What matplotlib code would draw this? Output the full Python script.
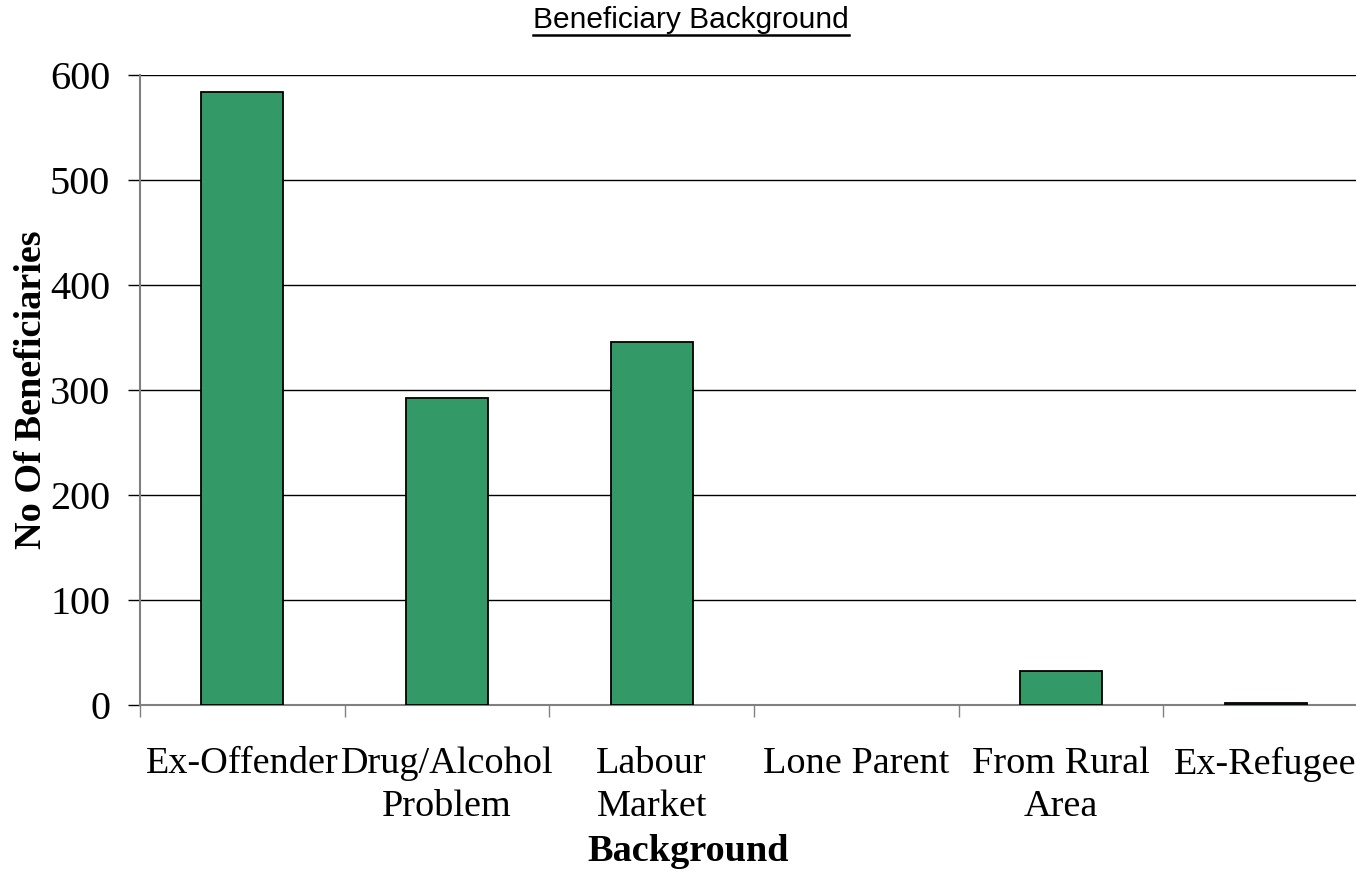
import matplotlib
matplotlib.use("Agg")
import matplotlib.pyplot as plt
from matplotlib.lines import Line2D

categories = ["Ex-Offender", "Drug/Alcohol\nProblem", "Labour\nMarket", "Lone Parent", "From Rural\nArea", "Ex-Refugee"]
values = [584, 292, 346, 0, 32, 2]
yticks = [0, 100, 200, 300, 400, 500, 600]
title = "Beneficiary Background"
xlabel = "Background"
ylabel = "No Of Beneficiaries"

W, H = 1356, 872
fig = plt.figure(figsize=(W / 100, H / 100), dpi=100)
ax = fig.add_axes([140 / W, 167 / H, 1228 / W, 630 / H])

serif = ["Liberation Serif", "DejaVu Serif"]
x = list(range(len(categories)))
ax.bar(x, values, width=0.4, color="#339966", edgecolor="black",
       linewidth=[1.3 if v > 0 else 0 for v in values], zorder=3)

ax.set_xlim(-0.5, len(categories) - 0.5)
ax.set_ylim(0, 600)
ax.set_yticks(yticks)
ax.set_yticklabels([str(v) for v in yticks], fontfamily=serif, fontsize=29)
ax.yaxis.grid(True, color="black", linewidth=1.0, zorder=0)
ax.set_axisbelow(True)
ax.tick_params(axis="y", length=8.6, width=1.0, color="black", pad=13)

ax.set_xticks(x)
ax.set_xticklabels(categories, fontfamily=serif, fontsize=27.5, linespacing=1.3)
ax.set_xticks([i - 0.5 for i in range(len(categories) + 1)], minor=True)
ax.tick_params(axis="x", which="major", length=0, pad=30)
ax.tick_params(axis="x", which="minor", length=8.6, width=1.0, color="#808080")

for s in ["top", "right"]:
    ax.spines[s].set_visible(False)
for s in ["left", "bottom"]:
    ax.spines[s].set_color("#808080")
    ax.spines[s].set_linewidth(1.5)

ax.set_xlabel(xlabel, fontfamily=serif, fontsize=27.5, fontweight="bold")
ax.xaxis.set_label_coords((688 - 140) / 1228, -(861 - 705) / 630)
ax.xaxis.label.set_va("baseline")
ax.set_ylabel(ylabel, fontfamily=serif, fontsize=27.5, fontweight="bold")
ax.yaxis.set_label_coords(-(140 - 32) / 1228, 0.5)
ax.yaxis.label.set_va("center")

t = fig.text(691 / W, 1 - 20 / H, title, fontfamily=["Liberation Sans", "DejaVu Sans"],
             fontsize=21.5, ha="center", va="center")
fig.canvas.draw()
bb = t.get_window_extent(renderer=fig.canvas.get_renderer())
uy = (H - 35) / H
fig.add_artist(Line2D([bb.x0 / W, bb.x1 / W], [uy, uy], color="black", linewidth=1.8,
                      transform=fig.transFigure))

fig.savefig("out.png", dpi=100)
